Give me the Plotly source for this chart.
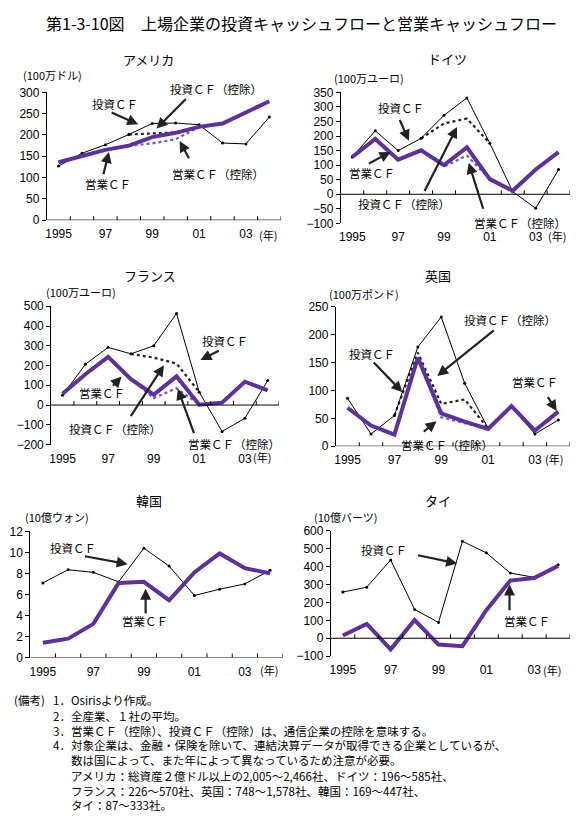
import plotly.graph_objects as go

# page is 580x829; the html body adds an 8px margin, so the figure is 8px smaller
PAGE_W, PAGE_H, OFF = 580, 829, 8
W, H = PAGE_W - OFF, PAGE_H - OFF

years = list(range(1995, 2005))
year_ticks = [1995, 1997, 1999, 2001, 2003]
year_labels = ["1995", "97", "99", "01", "03"]

# アメリカ (100万ドル)
usa_inv = [127, 157, 177, 201, 227, 228, 224, 181, 179, 242]
usa_inv_ex = [None, None, None, 201, 204, 206, 220, None, None, None]
usa_op = [136, 150, 165, 175, 195, 205, 219, 227, 254, 279]
usa_op_ex = [136, 150, 165, 175, 180, 190, 219, 227, 254, 279]

# ドイツ (100万ユーロ)
ger_inv = [128, 218, 150, 192, 271, 331, 175, 9, -48, 85]
ger_inv_ex = [None, None, None, 192, 243, 260, 175, None, None, None]
ger_op = [128, 190, 119, 151, 100, 161, 52, 12, 85, 145]
ger_op_ex = [128, 190, 119, 151, 95, 133, 52, 12, 85, 145]

# フランス (100万ユーロ)
fra_inv = [49, 206, 292, 259, 300, 463, 65, -134, -67, 124]
fra_inv_ex = [None, None, None, 259, 240, 210, 65, None, None, None]
fra_op = [57, 156, 244, 131, 52, 145, 2, 12, 118, 74]
fra_op_ex = [57, 156, 244, 131, 35, 85, 2, 12, 118, 74]

# 英国 (100万ポンド)
uk_inv = [86, 22, 55, 178, 232, 113, 32, 70, 22, 47]
uk_inv_ex = [None, None, 55, 168, 76, 84, 32, None, None, None]
uk_op = [69, 37, 21, 159, 59, 44, 31, 72, 28, 62]
uk_op_ex = [69, 37, 21, 159, 52, 42, 31, 72, 28, 62]

# 韓国 (10億ウォン)
kor_inv = [7.1, 8.35, 8.1, 7.2, 10.4, 8.7, 5.9, 6.5, 7.0, 8.3]
kor_op = [1.4, 1.8, 3.2, 7.1, 7.2, 5.45, 8.1, 9.9, 8.5, 8.0]

# タイ (10億バーツ)
tha_inv = [258, 285, 437, 161, 88, 541, 477, 364, 340, 410]
tha_op = [15, 80, -62, 102, -35, -44, 157, 322, 336, 404]

PURPLE = "#5e2f9f"
BLUE = "#5a5ae6"
JP = "Noto Sans CJK JP"
NUM = "Liberation Sans"


def pxx(x):
    return (x - OFF) / W


def pxy(y):
    return 1 - (y - OFF) / H


panels = [
    dict(title="アメリカ", unit="(100万ドル)", box=(45, 86.7, 280, 216.7),
         yr=(0, 300), dt=50, series=(usa_inv, usa_inv_ex, usa_op, usa_op_ex),
         tpos=(147, 53), upos=(19, 69), npos=(256, 232)),
    dict(title="ドイツ", unit="(100万ユーロ)", box=(340, 86.7, 570, 220),
         yr=(-100, 350), dt=50, series=(ger_inv, ger_inv_ex, ger_op, ger_op_ex),
         tpos=(447, 52), upos=(331, 72), npos=(546, 233)),
    dict(title="フランス", unit="(100万ユーロ)", box=(49.3, 304.3, 278, 445),
         yr=(-200, 500), dt=100, series=(fra_inv, fra_inv_ex, fra_op, fra_op_ex),
         tpos=(148, 273), upos=(42, 290), npos=(250, 458)),
    dict(title="英国", unit="(100万ポンド)", box=(335, 305, 570, 446.7),
         yr=(0, 250), dt=50, series=(uk_inv, uk_inv_ex, uk_op, uk_op_ex),
         tpos=(437, 273), upos=(326, 292), npos=(543, 460)),
    dict(title="韓国", unit="(10億ウォン)", box=(28.3, 533.3, 281.7, 661.7),
         yr=(0, 12), dt=2, series=(kor_inv, None, kor_op, None),
         tpos=(147, 502), upos=(21, 519), npos=(257, 674)),
    dict(title="タイ", unit="(10億バーツ)", box=(330, 532.7, 570, 660.3),
         yr=(-100, 600), dt=100, series=(tha_inv, None, tha_op, None),
         tpos=(437, 502), upos=(311, 519), npos=(541, 674)),
]

# label: (text, text x, text y, tail x, tail y, head x, head y) in data units
labels = [
    [("投資ＣＦ", 1997.41, 273, 1997.2, 254, 1998.4, 225),
     ("投資ＣＦ（控除）", 2001.73, 308, 2000.5, 288, 1999.18, 215),
     ("営業ＣＦ", 1997.12, 86, 1996.9, 104, 1997.15, 160),
     ("営業ＣＦ（控除）", 2001.8, 109, 2000.6, 142, 2000.17, 186)],
    [("投資ＣＦ", 1997.11, 295, 1997.04, 260, 1997.47, 184),
     ("営業ＣＦ", 1995.88, 74, 1995.66, 103, 1996.67, 145),
     ("投資ＣＦ（控除）", 1997.25, -33, 1998.12, 6, 1999.57, 231),
     ("営業ＣＦ（控除）", 2002.33, -97, 2000.73, -55, 2000.08, 108)],
    [("投資ＣＦ", 2002.13, 322, 2001.92, 278, 2001.05, 228),
     ("営業ＣＦ", 1996.71, 62, 1997.15, 90, 1997.59, 145),
     ("投資ＣＦ（控除）", 1997.29, -120, 1997.95, -64, 1999.45, 201),
     ("営業ＣＦ（控除）", 2002.53, -196, 2000.79, -150, 2000.06, 82)],
    [("投資ＣＦ（控除）", 2001.95, 226, 2001.31, 210, 1998.83, 126),
     ("投資ＣＦ", 1996.06, 166, 1996.06, 153, 1997.34, 97),
     ("営業ＣＦ", 2003.01, 115, 2003.51, 91, 2003.93, 63),
     ("営業ＣＦ（控除）", 1999.25, 2, 1998.19, 24, 1998.8, 45)],
    [("投資ＣＦ", 1996.21, 10.38, 1996.61, 9.66, 1998.36, 8.88),
     ("営業ＣＦ", 1999.04, 3.43, 1999.07, 4.05, 1999.07, 6.55)],
    [("投資ＣＦ", 1996.72, 490, 1998.08, 465, 1999.78, 417),
     ("営業ＣＦ", 2002.69, 94, 2001.97, 148, 2001.97, 300)],
]


def to_paper(p, x, y):
    # data position of a panel -> paper position (so labels outside the range still show)
    x0, y0, x1, y1 = p["box"]
    lo, hi = p["yr"]
    px = x0 + (x - 1994.5) / 10 * (x1 - x0)
    py = y1 - (y - lo) / (hi - lo) * (y1 - y0)
    return pxx(px), pxy(py)


fig = go.Figure()
layout = dict(
    width=W, height=H, autosize=False,
    margin=dict(l=0, r=0, t=0, b=0),
    paper_bgcolor="white", plot_bgcolor="white",
    showlegend=False,
    font=dict(family=JP, size=12, color="black"),
)
annotations = []
shapes = []

for i, p in enumerate(panels):
    n = "" if i == 0 else str(i + 1)
    xa, ya = "x" + n, "y" + n
    x0, y0, x1, y1 = p["box"]
    layout["xaxis" + n] = dict(
        domain=[pxx(x0), pxx(x1)], range=[1994.5, 2004.5], anchor=ya,
        tickmode="array", tickvals=year_ticks, ticktext=year_labels,
        ticks="", showline=False, showgrid=False, zeroline=False,
        tickfont=dict(family=NUM, size=12), ticklabelstandoff=5,
    )
    layout["yaxis" + n] = dict(
        domain=[pxy(y1), pxy(y0)], range=list(p["yr"]), anchor=xa,
        dtick=p["dt"], tick0=0, ticks="outside", ticklen=4, tickcolor="black",
        showline=True, linecolor="black", linewidth=1, showgrid=False,
        zeroline=False, tickfont=dict(family=NUM, size=12),
    )
    inv, inv_ex, op, op_ex = p["series"]
    if inv_ex is not None:
        fig.add_trace(go.Scatter(x=years, y=inv_ex, mode="lines", xaxis=xa, yaxis=ya,
                                 line=dict(color="#222", width=2.2, dash="dot"),
                                 connectgaps=False))
    fig.add_trace(go.Scatter(x=years, y=inv, mode="lines+markers", xaxis=xa, yaxis=ya,
                             line=dict(color="black", width=1),
                             marker=dict(color="black", size=3)))
    if op_ex is not None:
        fig.add_trace(go.Scatter(x=years, y=op_ex, mode="lines", xaxis=xa, yaxis=ya,
                                 line=dict(color=BLUE, width=2.2, dash="dot")))
    fig.add_trace(go.Scatter(x=years, y=op, mode="lines", xaxis=xa, yaxis=ya,
                             line=dict(color=PURPLE, width=4)))

    # horizontal axis at zero with upward tick marks between categories
    shapes.append(dict(type="line", xref=xa, yref=ya, x0=1994.5, x1=2004.5, y0=0, y1=0,
                       line=dict(color="black", width=1)))
    for k in range(10):
        shapes.append(dict(type="line", xref=xa, yref=ya, ysizemode="pixel", yanchor=0,
                           x0=1995.5 + k, x1=1995.5 + k, y0=0, y1=4,
                           line=dict(color="black", width=1)))

    annotations.append(dict(text=p["title"], xref="paper", yref="paper",
                            x=pxx(p["tpos"][0]), y=pxy(p["tpos"][1]), showarrow=False,
                            xanchor="center", yanchor="middle", font=dict(size=13)))
    annotations.append(dict(text=p["unit"], xref="paper", yref="paper",
                            x=pxx(p["upos"][0]), y=pxy(p["upos"][1]), showarrow=False,
                            xanchor="left", yanchor="middle", font=dict(size=11)))
    annotations.append(dict(text="(年)", xref="paper", yref="paper",
                            x=pxx(p["npos"][0]), y=pxy(p["npos"][1]), showarrow=False,
                            xanchor="left", yanchor="middle", font=dict(size=11)))

    for text, tx, ty, ax, ay, hx, hy in labels[i]:
        lx, ly = to_paper(p, tx, ty)
        annotations.append(dict(text=text, xref="paper", yref="paper", x=lx, y=ly,
                                showarrow=False, xanchor="center", yanchor="middle",
                                font=dict(size=11.5)))
        annotations.append(dict(text="", xref=xa, yref=ya, x=hx, y=hy,
                                axref=xa, ayref=ya, ax=ax, ay=ay, showarrow=True,
                                arrowhead=2, arrowsize=1, arrowwidth=2.2,
                                arrowcolor="#222"))

annotations.append(dict(text="第1-3-10図", xref="paper", yref="paper",
                        x=pxx(42), y=pxy(16), showarrow=False, xanchor="left",
                        yanchor="middle", font=dict(size=16)))
annotations.append(dict(text="上場企業の投資キャッシュフローと営業キャッシュフロー",
                        xref="paper", yref="paper", x=pxx(137), y=pxy(16),
                        showarrow=False, xanchor="left", yanchor="middle",
                        font=dict(size=16)))

notes = [
    (10, 705, "(備考)"),
    (49, 705, "1．"), (67, 705, "Osirisより作成。"),
    (49, 721, "2．"), (67, 721, "全産業、１社の平均。"),
    (49, 736, "3．"), (67, 736, "営業ＣＦ（控除）、投資ＣＦ（控除）は、通信企業の控除を意味する。"),
    (49, 751, "4．"), (67, 751, "対象企業は、金融・保険を除いて、連結決算データが取得できる企業としているが、"),
    (67, 766, "数は国によって、また年によって異なっているため注意が必要。"),
    (67, 782, "アメリカ：総資産２億ドル以上の2,005～2,466社、ドイツ：196～585社、"),
    (67, 797, "フランス：226～570社、英国：748～1,578社、韓国：169～447社、"),
    (67, 812, "タイ：87～333社。"),
]
for nx, ny, text in notes:
    annotations.append(dict(text=text, xref="paper", yref="paper", x=pxx(nx), y=pxy(ny),
                            showarrow=False, xanchor="left", yanchor="middle",
                            font=dict(size=11.5)))

layout["annotations"] = annotations
layout["shapes"] = shapes
fig.update_layout(**layout)
fig.write_html("out.html")
